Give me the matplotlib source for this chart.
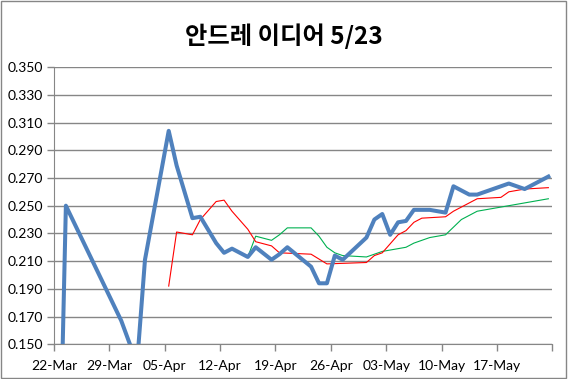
import matplotlib
matplotlib.use('Agg')
import matplotlib.pyplot as plt
import matplotlib.patches as patches
import pandas as pd

plt.rcParams['font.family'] = ['Lato', 'DejaVu Sans']

start = pd.Timestamp('2011-03-22')

# Batting average (blue)
avg_dates = ['03-22', '03-23', '03-30', '04-01', '04-02', '04-05', '04-06',
             '04-08', '04-09', '04-11', '04-12', '04-13', '04-15', '04-16',
             '04-18', '04-19', '04-20', '04-23', '04-24', '04-25', '04-26',
             '04-27', '04-30', '05-01', '05-02', '05-03', '05-04', '05-05',
             '05-06', '05-08', '05-10', '05-11', '05-13', '05-14', '05-18',
             '05-20', '05-23']
avg_values = [0.000, 0.250, 0.167, 0.136, 0.211, 0.304, 0.279,
              0.241, 0.242, 0.223, 0.216, 0.219, 0.213, 0.220,
              0.211, 0.215, 0.220, 0.206, 0.194, 0.194, 0.214,
              0.211, 0.227, 0.240, 0.244, 0.229, 0.238, 0.239,
              0.247, 0.247, 0.245, 0.264, 0.258, 0.258, 0.266,
              0.262, 0.271]

# red line
red_dates = ['04-05', '04-06', '04-08', '04-09', '04-11', '04-12', '04-13',
             '04-15', '04-16', '04-18', '04-19', '04-23', '04-25', '04-30',
             '05-01', '05-02', '05-04', '05-05', '05-06', '05-07', '05-10',
             '05-11', '05-12', '05-14', '05-17', '05-18', '05-20', '05-23']
red_values = [0.192, 0.231, 0.229, 0.240, 0.253, 0.254, 0.246,
              0.233, 0.224, 0.221, 0.216, 0.215, 0.208, 0.209,
              0.214, 0.216, 0.229, 0.232, 0.238, 0.241, 0.242,
              0.246, 0.249, 0.255, 0.256, 0.260, 0.262, 0.263]

# green line
green_dates = ['04-15', '04-16', '04-18', '04-19', '04-20', '04-23', '04-24',
               '04-25', '04-26', '04-27', '04-30', '05-02', '05-05', '05-06',
               '05-08', '05-10', '05-12', '05-14', '05-18', '05-20', '05-23']
green_values = [0.213, 0.228, 0.225, 0.229, 0.234, 0.234, 0.228,
                0.220, 0.216, 0.214, 0.213, 0.217, 0.220, 0.223,
                0.227, 0.229, 0.240, 0.246, 0.250, 0.252, 0.255]


def to_x(dates):
    # Excel date axis: points sit in the middle of each day slot
    return pd.to_datetime(['2011-' + d for d in dates]) + pd.Timedelta(hours=12)


fig = plt.figure(figsize=(5.68, 3.79), dpi=100)
ax = fig.add_axes([0.0951, 0.0916, 0.8773, 0.7314])

ax.plot(to_x(green_dates), green_values, color='#00B050', lw=0.8, zorder=3)
ax.plot(to_x(red_dates), red_values, color='#FF0000', lw=0.8, zorder=3)
ax.plot(to_x(avg_dates), avg_values, color='#4F81BD', lw=2.9, zorder=4,
        solid_joinstyle='round')

ax.set_ylim(0.150, 0.350)
ax.set_xlim(start, start + pd.Timedelta(days=63))

yt = [0.150 + 0.02 * i for i in range(11)]
ax.set_yticks(yt)
ax.set_yticklabels([f'{v:.3f}' for v in yt])

xt = pd.date_range(start, periods=10, freq='7D')
ax.set_xticks(xt)
ax.set_xticklabels([d.strftime('%d-%b') for d in xt[:-1]] + [''])

ax.grid(axis='y', color='#868686', lw=1)
ax.set_axisbelow(True)
for s in ['top', 'right']:
    ax.spines[s].set_visible(False)
for s in ['left', 'bottom']:
    ax.spines[s].set_color('#868686')
ax.tick_params(axis='both', colors='#868686', length=5, width=1,
               labelcolor='black', labelsize=10, pad=3)
ax.tick_params(axis='x', pad=6)

fig.text(0.5, 0.905, '안드레 이디어 5/23', ha='center', va='center',
         fontsize=17.5, fontweight='bold',
         family=['Noto Sans CJK KR', 'DejaVu Sans'])

fig.patches.append(patches.Rectangle((0.002, 0.003), 0.995, 0.994,
                                     transform=fig.transFigure, fill=False,
                                     edgecolor='#868686', lw=1))

fig.savefig('out.png', dpi=100)
